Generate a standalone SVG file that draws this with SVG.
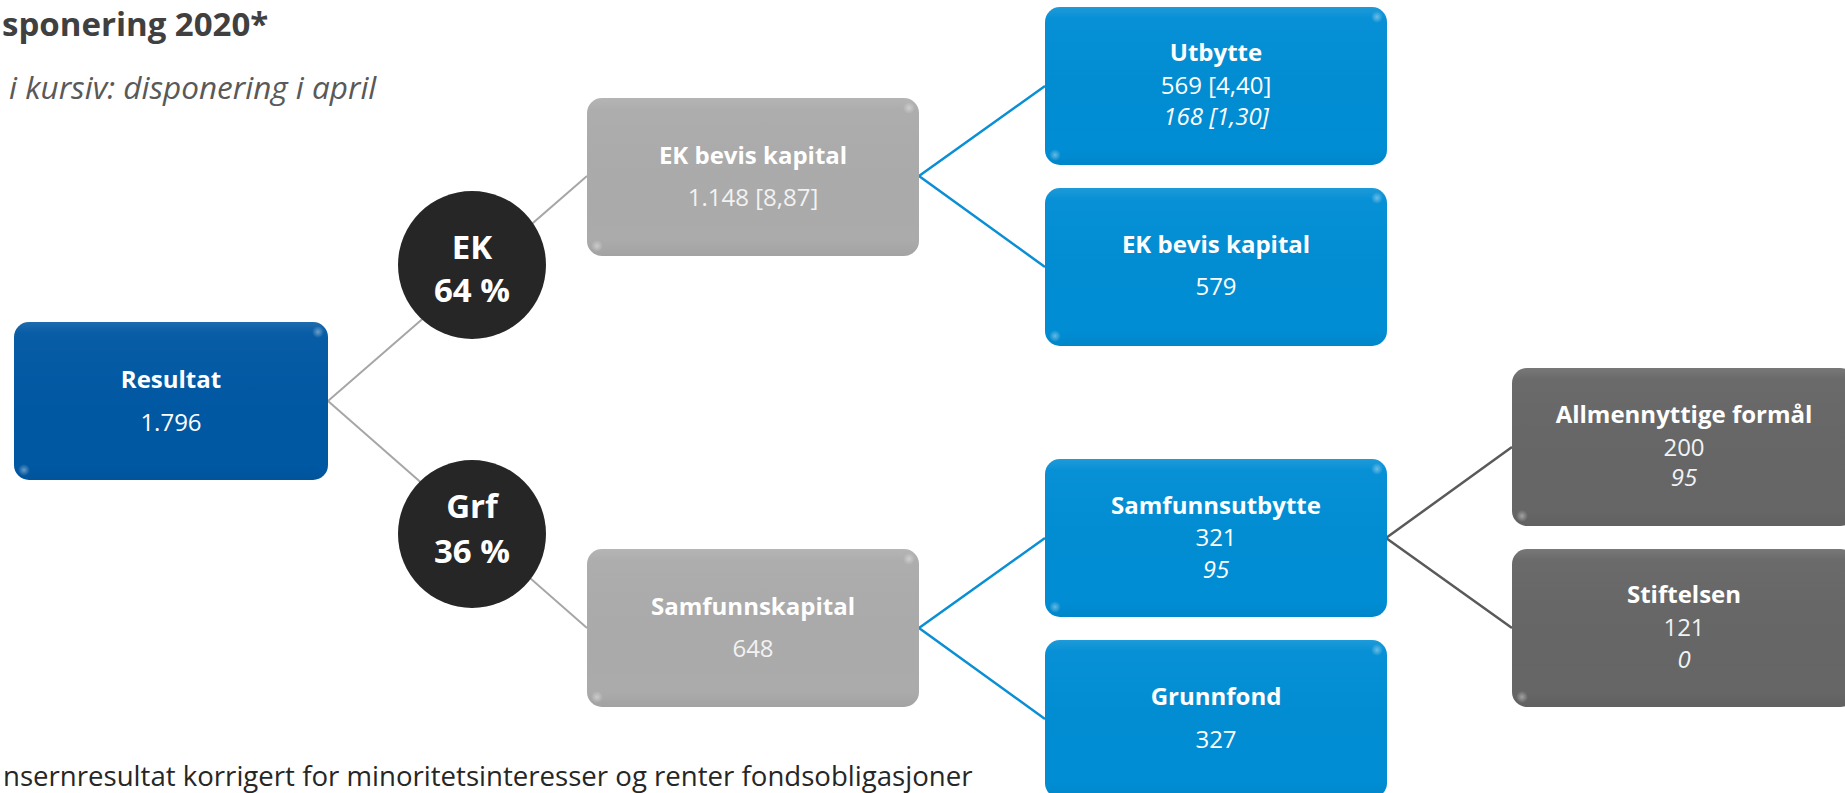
<svg xmlns="http://www.w3.org/2000/svg" width="1845" height="793" viewBox="0 0 1845 793">
  <defs>
    <linearGradient id="gloss" x1="0" y1="0" x2="0" y2="1">
      <stop offset="0" stop-color="#ffffff" stop-opacity="0.12"/>
      <stop offset="0.07" stop-color="#ffffff" stop-opacity="0.03"/>
      <stop offset="0.9" stop-color="#000000" stop-opacity="0"/>
      <stop offset="1" stop-color="#000000" stop-opacity="0.05"/>
    </linearGradient>
    <radialGradient id="spot">
      <stop offset="0" stop-color="#ffffff" stop-opacity="0.4"/>
      <stop offset="1" stop-color="#ffffff" stop-opacity="0"/>
    </radialGradient>
    <style>
      .title { font-family: "Open Sans", "Liberation Sans", sans-serif; font-weight: 700; font-size: 24px; fill: #ffffff; text-anchor: middle; }
      .val { font-family: "Open Sans", "Liberation Sans", sans-serif; font-size: 24px; fill: #ffffff; text-anchor: middle; }
      .grayval { fill: #f2f2f2; }
      .it { font-style: italic; }
      .circ { fill: #262626; }
      .ctext { font-family: "Open Sans", "Liberation Sans", sans-serif; font-weight: 700; font-size: 33px; fill: #ffffff; text-anchor: middle; }
      .gloss { fill: url(#gloss); }
      .spot { fill: url(#spot); }
      .cg { stroke: #a6a6a6; stroke-width: 2; fill: none; }
      .cb { stroke: #0a8fd4; stroke-width: 2.5; fill: none; }
      .cd { stroke: #5a5a5a; stroke-width: 2.5; fill: none; }
    </style>
  </defs>

  <rect width="1845" height="793" fill="#ffffff"/>

  <!-- header / footer text -->
  <text x="2" y="36" font-family="'Open Sans', 'Liberation Sans', sans-serif" font-weight="700" font-size="33" fill="#404040">sponering 2020*</text>
  <text x="9" y="99" font-family="'Open Sans', 'Liberation Sans', sans-serif" font-style="italic" font-size="31.5" fill="#595959">i kursiv: disponering i april</text>
  <text x="3" y="786" font-family="'Open Sans', 'Liberation Sans', sans-serif" font-size="27.6" fill="#262626">nsernresultat korrigert for minoritetsinteresser og renter fondsobligasjoner</text>

  <!-- connectors -->
  <g id="connectors">
    <path class="cg" d="M328,401 L587,176"/>
    <path class="cg" d="M328,401 L587,628"/>
    <path class="cb" d="M1045,86 L919,176 L1045,267"/>
    <path class="cb" d="M1045,538 L919,628 L1045,719"/>
    <path class="cd" d="M1512,447 L1386,538 L1512,628"/>
  </g>

  <g id="node-resultat">
    <rect x="14" y="322" width="314" height="158" rx="15" fill="#0058a3"/>
    <rect x="14" y="322" width="314" height="158" rx="15" class="gloss"/>
    <circle cx="318" cy="332" r="6" class="spot"/>
    <circle cx="24" cy="470" r="6" class="spot"/>
    <text class="title" x="171" y="388">Resultat</text>
    <text class="val" x="171" y="431">1.796</text>
  </g>

  <g id="node-ek-circle">
    <circle class="circ" cx="472" cy="265" r="74"/>
    <text class="ctext" x="472" y="259">EK</text>
    <text class="ctext" x="472" y="302">64 %</text>
  </g>

  <g id="node-grf-circle">
    <circle class="circ" cx="472" cy="534" r="74"/>
    <text class="ctext" x="472" y="518">Grf</text>
    <text class="ctext" x="472" y="563">36 %</text>
  </g>

  <g id="node-ek-bevis-kapital">
    <rect x="587" y="98" width="332" height="158" rx="15" fill="#ababab"/>
    <rect x="587" y="98" width="332" height="158" rx="15" class="gloss"/>
    <circle cx="909" cy="108" r="6" class="spot"/>
    <circle cx="597" cy="246" r="6" class="spot"/>
    <text class="title" x="753" y="164">EK bevis kapital</text>
    <text class="val grayval" x="753" y="206">1.148 [8,87]</text>
  </g>

  <g id="node-samfunnskapital">
    <rect x="587" y="549" width="332" height="158" rx="15" fill="#ababab"/>
    <rect x="587" y="549" width="332" height="158" rx="15" class="gloss"/>
    <circle cx="909" cy="559" r="6" class="spot"/>
    <circle cx="597" cy="697" r="6" class="spot"/>
    <text class="title" x="753" y="615">Samfunnskapital</text>
    <text class="val grayval" x="753" y="657">648</text>
  </g>

  <g id="node-utbytte">
    <rect x="1045" y="7" width="342" height="158" rx="15" fill="#008dd4"/>
    <rect x="1045" y="7" width="342" height="158" rx="15" class="gloss"/>
    <circle cx="1377" cy="17" r="6" class="spot"/>
    <circle cx="1055" cy="155" r="6" class="spot"/>
    <text class="title" x="1216" y="61">Utbytte</text>
    <text class="val" x="1216" y="94">569 [4,40]</text>
    <text class="val it" x="1216" y="125">168 [1,30]</text>
  </g>

  <g id="node-ek-bevis-kapital-2">
    <rect x="1045" y="188" width="342" height="158" rx="15" fill="#008dd4"/>
    <rect x="1045" y="188" width="342" height="158" rx="15" class="gloss"/>
    <circle cx="1377" cy="198" r="6" class="spot"/>
    <circle cx="1055" cy="336" r="6" class="spot"/>
    <text class="title" x="1216" y="253">EK bevis kapital</text>
    <text class="val" x="1216" y="295">579</text>
  </g>

  <g id="node-samfunnsutbytte">
    <rect x="1045" y="459" width="342" height="158" rx="15" fill="#008dd4"/>
    <rect x="1045" y="459" width="342" height="158" rx="15" class="gloss"/>
    <circle cx="1377" cy="469" r="6" class="spot"/>
    <circle cx="1055" cy="607" r="6" class="spot"/>
    <text class="title" x="1216" y="514">Samfunnsutbytte</text>
    <text class="val" x="1216" y="546">321</text>
    <text class="val it" x="1216" y="578">95</text>
  </g>

  <g id="node-grunnfond">
    <rect x="1045" y="640" width="342" height="158" rx="15" fill="#008dd4"/>
    <rect x="1045" y="640" width="342" height="158" rx="15" class="gloss"/>
    <circle cx="1377" cy="650" r="6" class="spot"/>
    <text class="title" x="1216" y="705">Grunnfond</text>
    <text class="val" x="1216" y="748">327</text>
  </g>

  <g id="node-allmennyttige">
    <rect x="1512" y="368" width="343" height="158" rx="15" fill="#666666"/>
    <rect x="1512" y="368" width="343" height="158" rx="15" class="gloss"/>
    <circle cx="1522" cy="516" r="6" class="spot"/>
    <text class="title" x="1684" y="423">Allmennyttige formål</text>
    <text class="val grayval" x="1684" y="456">200</text>
    <text class="val grayval it" x="1684" y="486">95</text>
  </g>

  <g id="node-stiftelsen">
    <rect x="1512" y="549" width="343" height="158" rx="15" fill="#666666"/>
    <rect x="1512" y="549" width="343" height="158" rx="15" class="gloss"/>
    <circle cx="1522" cy="697" r="6" class="spot"/>
    <text class="title" x="1684" y="603">Stiftelsen</text>
    <text class="val grayval" x="1684" y="636">121</text>
    <text class="val grayval it" x="1684" y="668">0</text>
  </g>
</svg>
